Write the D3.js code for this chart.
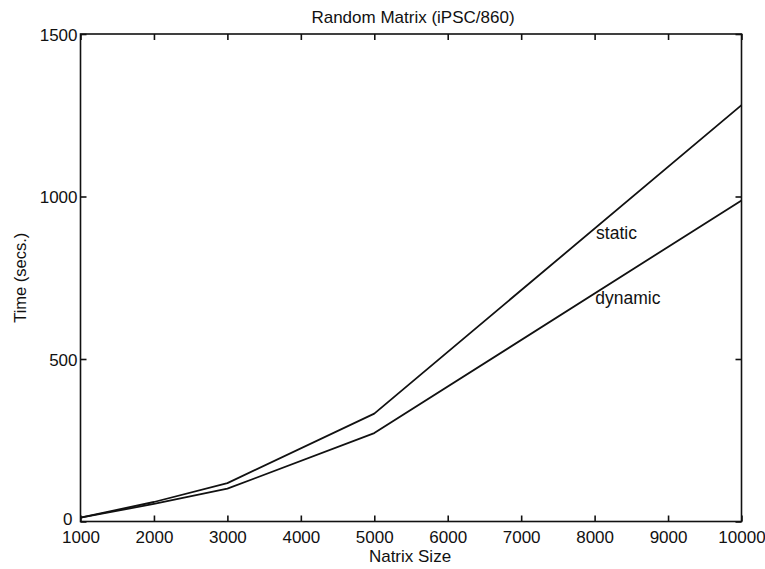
<!DOCTYPE html>
<html>
<head>
<meta charset="utf-8">
<script src="https://cdn.jsdelivr.net/npm/d3@7"></script>
<style>
  html, body { margin: 0; padding: 0; background: #fff; }
  text { font-family: "Liberation Sans", Arial, Helvetica, sans-serif; fill: #111; }
</style>
</head>
<body>
<svg id="chart" width="765" height="569"></svg>
<script>
const title = "Random Matrix (iPSC/860)";
const xLabel = "Natrix Size";
const yLabel = "Time (secs.)";
const sizes = [1000, 2000, 3000, 5000, 10000];
const staticTimes = [12, 60, 118, 332, 1281];
const dynamicTimes = [12, 54, 101, 272, 988];
const xTicks = [1000, 2000, 3000, 4000, 5000, 6000, 7000, 8000, 9000, 10000];
const yTicks = [0, 500, 1000, 1500];
const seriesNames = ["static", "dynamic"];

(function () {
const margin = { left: 80.5, right: 765 - 741.5, top: 34, bottom: 569 - 521.5 };
const W = 765, H = 569;
const svg = d3.select("#chart");
const x = d3.scaleLinear().domain([1000, 10000]).range([margin.left, W - margin.right]);
const y = d3.scaleLinear().domain([0, 1500]).range([H - margin.bottom, margin.top]);

const ink = "#111";
const tickLen = 6;

// frame
svg.append("rect")
  .attr("x", x(1000)).attr("y", y(1500))
  .attr("width", x(10000) - x(1000)).attr("height", y(0) - y(1500))
  .attr("fill", "none").attr("stroke", ink).attr("stroke-width", 1.6);

// axes with inward ticks
const fs = 17;
const gBottom = svg.append("g").attr("transform", `translate(0,${y(0)})`)
  .call(d3.axisBottom(x).tickValues(xTicks).tickSize(-tickLen).tickPadding(9).tickFormat(d3.format("d")));
const gTop = svg.append("g").attr("transform", `translate(0,${y(1500)})`)
  .call(d3.axisTop(x).tickValues(xTicks).tickSize(-tickLen).tickFormat(""));
const gLeft = svg.append("g").attr("transform", `translate(${x(1000)},0)`)
  .call(d3.axisLeft(y).tickValues(yTicks).tickSize(-tickLen).tickPadding(3).tickFormat(d3.format("d")));
const gRight = svg.append("g").attr("transform", `translate(${x(10000)},0)`)
  .call(d3.axisRight(y).tickValues(yTicks).tickSize(-tickLen).tickFormat(""));

[gBottom, gTop, gLeft, gRight].forEach(g => {
  g.select(".domain").remove();
  g.selectAll(".tick line").attr("stroke", ink).attr("stroke-width", 1.6);
  g.selectAll(".tick text").attr("font-size", fs).attr("fill", ink)
    .style("font-family", "'Liberation Sans', Arial, sans-serif");
});
gBottom.selectAll(".tick text").attr("dy", "0.71em");
gLeft.selectAll(".tick text").attr("dy", "0.36em");
gLeft.selectAll(".tick").filter(d => d === 0).select("text").attr("dy", "0.2em").attr("x", -8);

// lines
const line = d3.line().x(d => x(d[0])).y(d => y(d[1]));
const seriesData = [staticTimes, dynamicTimes];
seriesData.forEach(vals => {
  svg.append("path")
    .datum(sizes.map((s, i) => [s, vals[i]]))
    .attr("d", line)
    .attr("fill", "none")
    .attr("stroke", ink)
    .attr("stroke-width", 1.8)
    .attr("stroke-linejoin", "round");
});

// series labels
svg.append("text").attr("x", x(8020)).attr("y", y(870)).attr("font-size", 17.5).text(seriesNames[0]);
svg.append("text").attr("x", x(8010)).attr("y", y(670)).attr("font-size", 17.5).text(seriesNames[1]);

// title & axis labels
svg.append("text").attr("x", 413).attr("y", 23).attr("text-anchor", "middle").attr("font-size", 17).text(title);
svg.append("text").attr("x", 410).attr("y", 562).attr("text-anchor", "middle").attr("font-size", 17).text(xLabel);
svg.append("text").attr("transform", `translate(26,${(y(0) + y(1500)) / 2}) rotate(-90)`)
  .attr("text-anchor", "middle").attr("font-size", 16.5).text(yLabel);
})();
</script>
</body>
</html>
